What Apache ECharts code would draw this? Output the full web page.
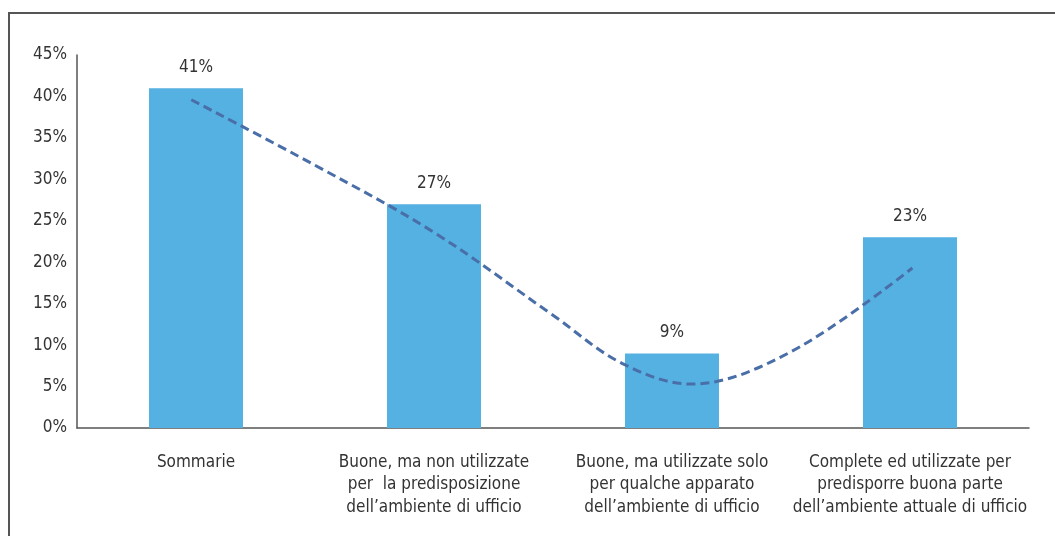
<!DOCTYPE html>
<html>
<head>
<meta charset="utf-8">
<script src="https://cdn.jsdelivr.net/npm/echarts@6/dist/echarts.min.js"></script>
<style>
  html, body { margin: 0; padding: 0; background: #ffffff; }
  #chart { width: 1055px; height: 536px; }
</style>
</head>
<body>
<div id="chart"></div>
<script>
// Category labels (multi-line, as printed under each bar)
var categories = [
  'Sommarie',
  'Buone, ma non utilizzate\nper  la predisposizione\ndell\u2019ambiente di ufficio',
  'Buone, ma utilizzate solo\nper qualche apparato\ndell\u2019ambiente di ufficio',
  'Complete ed utilizzate per\npredisporre buona parte\ndell\u2019ambiente attuale di ufficio'
];
// Share of respondents (%)
var shares = [41, 27, 9, 23];
// Dashed trend curve: position along the category axis (0 = first bar) and value (%)
var trendPos = [-0.02, 0.5, 1, 1.5, 1.79, 2.08, 2.5, 3.01];
var trendVal = [39.6, 31.7, 23.6, 13.6, 7.8, 5.3, 9.2, 19.3];

var FONT = '"Liberation Sans Narrow", "DejaVu Sans Condensed", "Roboto", sans-serif';

var trendData = trendPos.map(function (p, i) { return [p, trendVal[i]]; });

var chart = echarts.init(document.getElementById('chart'), null, { renderer: 'canvas' });
chart.setOption({
  backgroundColor: '#ffffff',
  animation: false,
  textStyle: { fontFamily: FONT },
  graphic: [{
    type: 'rect',
    shape: { x: 9, y: 13, width: 1100, height: 600 },
    style: { fill: 'none', stroke: '#555555', lineWidth: 2 },
    silent: true
  }],
  grid: { left: 77, right: 26, top: 55, bottom: 108, containLabel: false },
  xAxis: [
    {
      type: 'category',
      data: categories,
      boundaryGap: true,
      axisLine: { lineStyle: { color: '#555555', width: 1.5 } },
      axisTick: { show: false },
      axisLabel: {
        color: '#333333', fontSize: 17, fontFamily: FONT,
        lineHeight: 22.5, margin: 23, interval: 0
      },
      splitLine: { show: false }
    },
    {
      type: 'value',
      min: -0.5, max: 3.5,
      show: false
    }
  ],
  yAxis: {
    type: 'value',
    min: 0, max: 45, interval: 5,
    axisLine: { show: true, onZero: false, lineStyle: { color: '#555555', width: 1.5 } },
    axisTick: { show: false },
    axisLabel: {
      color: '#333333', fontSize: 17, fontFamily: FONT, margin: 10,
      formatter: '{value}%'
    },
    splitLine: { show: false }
  },
  series: [
    {
      type: 'bar',
      data: shares,
      barWidth: '39.5%',
      itemStyle: { color: '#55b1e1' },
      label: {
        show: true, position: 'top', distance: 12,
        color: '#333333', fontSize: 17, fontFamily: FONT,
        formatter: '{c}%'
      },
      z: 2
    },
    {
      type: 'line',
      xAxisIndex: 1,
      data: trendData,
      smooth: 0.35,
      symbol: 'none',
      lineStyle: { color: '#4a6ea8', width: 3, type: [9, 5] },
      z: 3
    }
  ]
});
</script>
</body>
</html>
